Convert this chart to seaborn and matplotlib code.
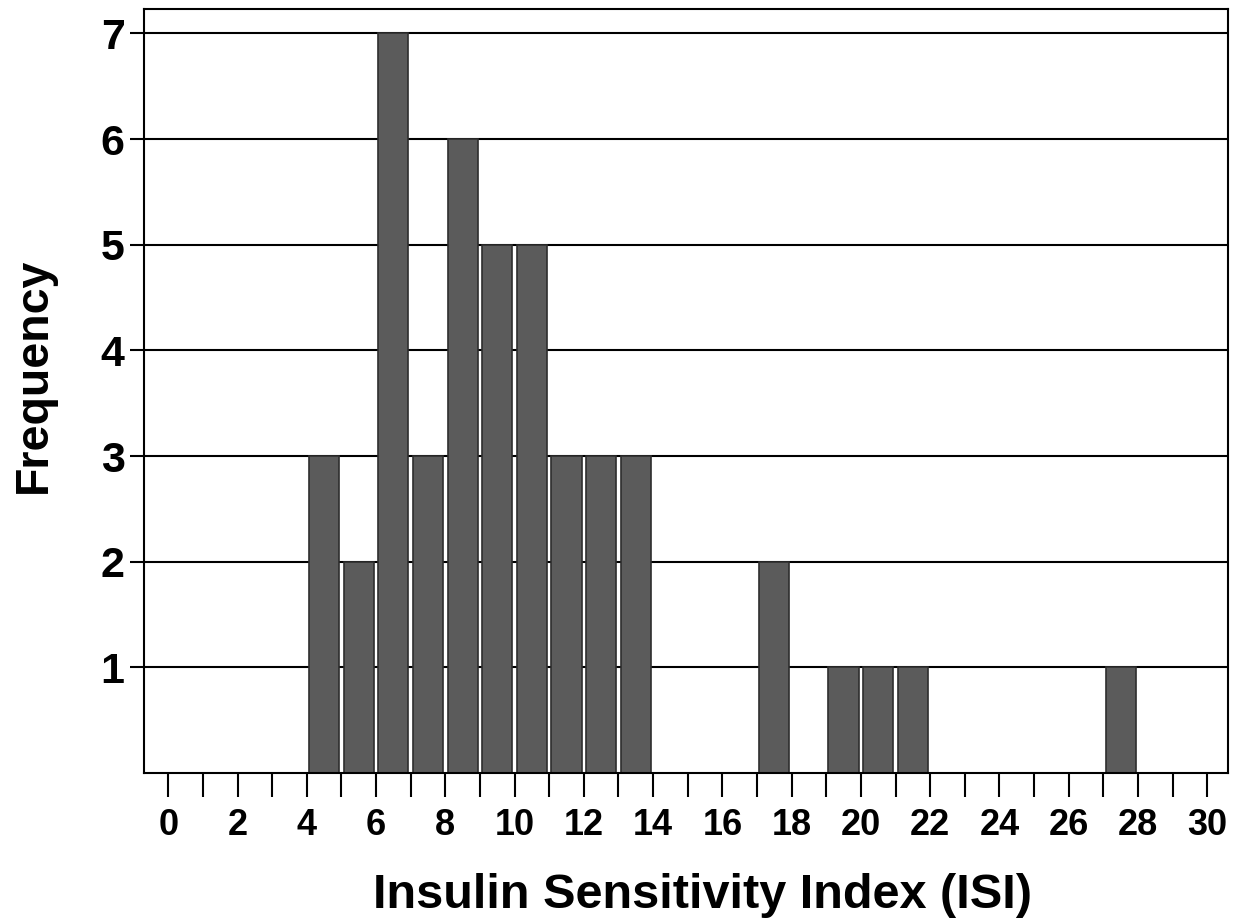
import numpy as np
import matplotlib
matplotlib.use("Agg")
import matplotlib.pyplot as plt
import seaborn as sns

# histogram bins (width 1) and counts
bin_edges = list(range(0, 31))
bin_centers = [4.5, 5.5, 6.5, 7.5, 8.5, 9.5, 10.5, 11.5, 12.5, 13.5, 17.5, 19.5, 20.5, 21.5, 27.5]
counts = [3, 2, 7, 3, 6, 5, 5, 3, 3, 3, 2, 1, 1, 1, 1]

x_ticks = list(range(0, 31))
x_labels = [str(t) if t % 2 == 0 else "" for t in x_ticks]
y_ticks = [1, 2, 3, 4, 5, 6, 7]

sns.set_style("white")
plt.rcParams["font.family"] = ["Liberation Sans", "DejaVu Sans"]
plt.rcParams["font.weight"] = "bold"
plt.rcParams["text.color"] = "black"
plt.rcParams["axes.labelcolor"] = "black"
plt.rcParams["xtick.color"] = "black"
plt.rcParams["ytick.color"] = "black"

fig = plt.figure(figsize=(12.45, 9.18), dpi=100)
ax = fig.add_axes([0.1157, 0.158, 0.8706, 0.832])

"""Gridlines behind bars"""
for y in y_ticks:
    ax.axhline(y, color="black", lw=1.5, zorder=0)

sns.histplot(x=bin_centers, weights=counts, bins=bin_edges, shrink=0.87,
             color="#5b5b5b", edgecolor="#2e2e2e", linewidth=1.2, alpha=1,
             ax=ax, zorder=2)

ax.set_xlim(-0.7, 30.6)
ax.set_ylim(0, 7.23)
ax.set_xticks(x_ticks)
ax.set_xticklabels(x_labels)
ax.set_yticks(y_ticks)

for s in ax.spines.values():
    s.set_visible(True)
    s.set_color("black")
    s.set_linewidth(1.5)

ax.tick_params(axis="x", direction="out", length=17, width=1.5, pad=8,
               labelsize=26, bottom=True, color="black", labelcolor="black")
ax.tick_params(axis="y", direction="out", length=10, width=1.5, pad=4,
               labelsize=31, left=True, color="black", labelcolor="black")
for lab in ax.get_xticklabels() + ax.get_yticklabels():
    lab.set_fontweight("bold")

ax.set_xlabel("Insulin Sensitivity Index (ISI)", fontsize=35, fontweight="bold",
              labelpad=22, color="black")
ax.set_ylabel("Frequency", fontsize=33.5, fontweight="bold", labelpad=32, color="black")
ax.xaxis.label.set_x(0.515)
ax.yaxis.label.set_y(0.52)

plt.savefig("out.png", dpi=100)
